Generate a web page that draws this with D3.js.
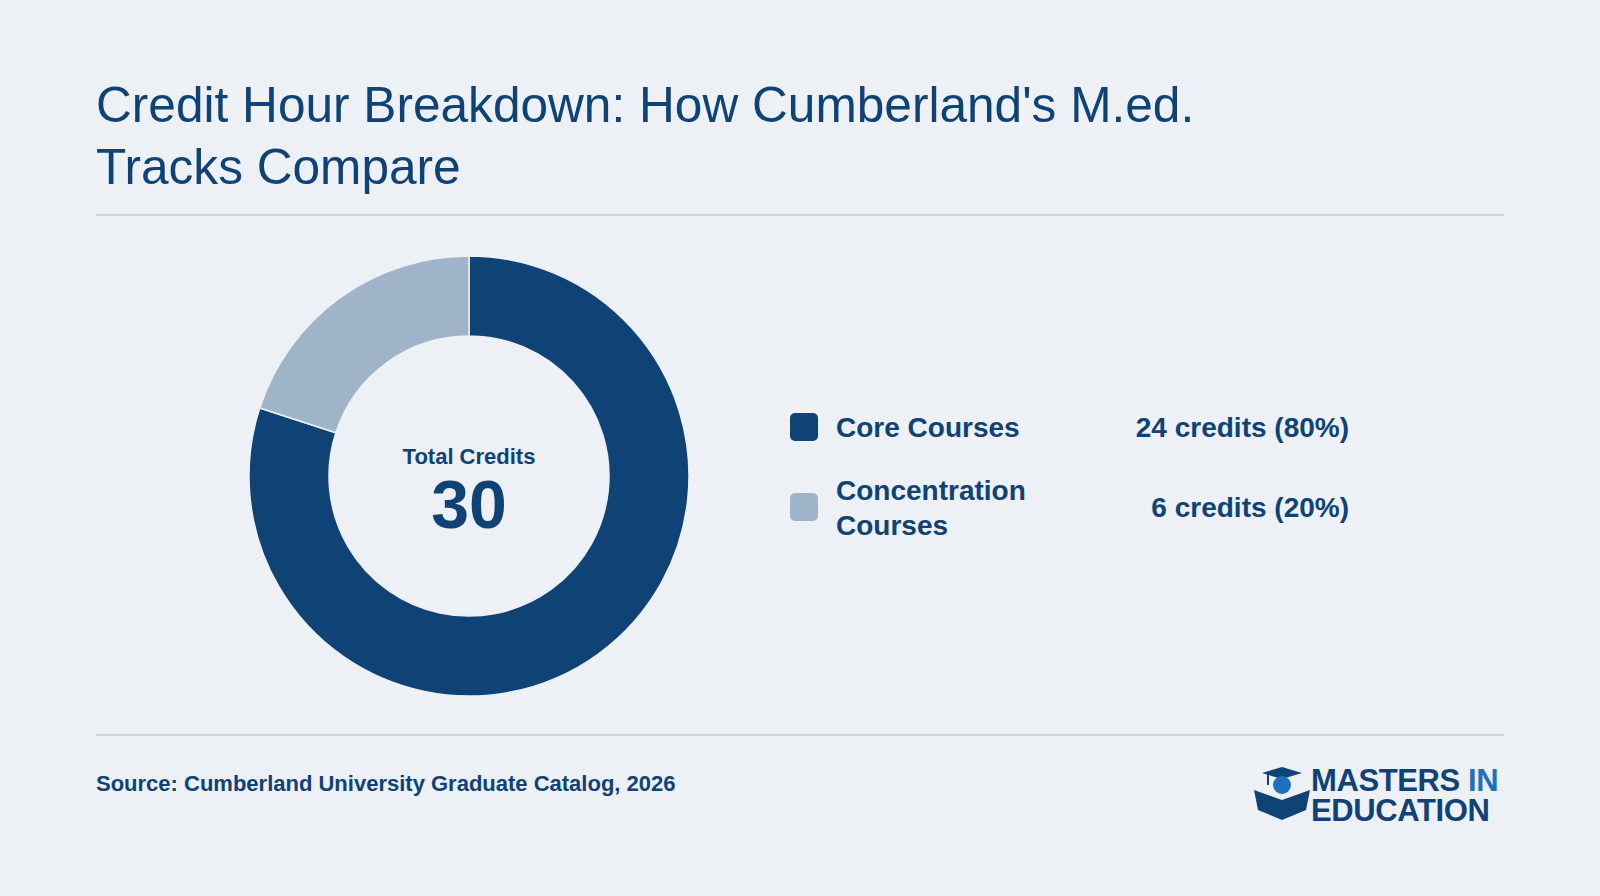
<!DOCTYPE html><html><head><meta charset="utf-8"><script src="https://cdn.jsdelivr.net/npm/d3@7"></script>
<style>body{margin:0;background:#edf0f5}text{font-family:"Liberation Sans",Arial,sans-serif}</style></head><body>
<svg id="c" width="1600" height="896"></svg>
<script>
const categories=["Core Courses","Concentration Courses"];
const credits=[24,6];
const valueLabels=["24 credits (80%)","6 credits (20%)"];
const colors=["#0f4275","#a0b4c9"];
const svg=d3.select("#c");
const navy="#0f4275";
svg.append("rect").attr("width",1600).attr("height",896).attr("fill","#edf0f5");
svg.append("text").attr("x",96).attr("y",122).attr("font-size",49.6).attr("fill",navy).text("Credit Hour Breakdown: How Cumberland's M.ed.");
svg.append("text").attr("x",96).attr("y",184).attr("font-size",49.6).attr("fill",navy).text("Tracks Compare");
[215,735].forEach(y=>svg.append("line").attr("x1",96).attr("x2",1504).attr("y1",y).attr("y2",y).attr("stroke","#c3cedb").attr("stroke-width",1.5));
const g=svg.append("g").attr("transform","translate(469,476)");
const pie=d3.pie().sort(null)(credits);
const arc=d3.arc().innerRadius(140).outerRadius(220);
g.selectAll("path").data(pie).join("path").attr("d",arc).attr("fill",(d,i)=>colors[i]).attr("stroke","#edf0f5").attr("stroke-width",1.5);
g.append("text").attr("text-anchor","middle").attr("y",-12).attr("font-size",22).attr("font-weight","bold").attr("fill",navy).text("Total Credits");
g.append("text").attr("text-anchor","middle").attr("y",52).attr("font-size",68).attr("font-weight","bold").attr("fill",navy).text(d3.sum(credits));
const ly=[427,507];
categories.forEach((c,i)=>{
  svg.append("rect").attr("x",790).attr("y",ly[i]-14).attr("width",28).attr("height",28).attr("rx",5).attr("fill",colors[i]);
  const t=svg.append("text").attr("x",836).attr("font-size",28).attr("font-weight","bold").attr("fill",navy);
  const words=i==0?[c]:["Concentration","Courses"];
  words.forEach((w,k)=>t.append("tspan").attr("x",836).attr("y",ly[i]+10+(words.length>1?(k-0.5)*35:0)).text(w));
  svg.append("text").attr("x",1349).attr("y",ly[i]+10).attr("text-anchor","end").attr("font-size",28).attr("font-weight","bold").attr("fill",navy).text(valueLabels[i]);
});
svg.append("text").attr("x",96).attr("y",791).attr("font-size",22).attr("font-weight","bold").attr("fill",navy).text("Source: Cumberland University Graduate Catalog, 2026");
// logo
const lg=svg.append("g");
lg.append("path").attr("d","M1262,773 L1282,767 L1302,773 L1282,779 Z").attr("fill",navy);
lg.append("circle").attr("cx",1282).attr("cy",785).attr("r",9).attr("fill","#1f6fbf");
lg.append("line").attr("x1",1268).attr("x2",1268).attr("y1",774).attr("y2",785).attr("stroke",navy).attr("stroke-width",2);
lg.append("path").attr("d","M1254,790 L1282,800 L1310,790 L1306,810 L1282,820 L1258,810 Z").attr("fill",navy);
lg.append("path").attr("d","M1258,790 L1282,797 L1306,790").attr("fill","none").attr("stroke","#edf0f5").attr("stroke-width",1.5);
const l1=lg.append("text").attr("x",1311).attr("y",791).attr("font-size",31).attr("font-weight",900).attr("fill",navy).attr("letter-spacing",-0.4).attr("font-family","Roboto");
l1.append("tspan").text("MASTERS ");l1.append("tspan").attr("fill","#1f6fbf").text("IN");
lg.append("text").attr("x",1311).attr("y",821).attr("font-size",31).attr("font-weight",900).attr("fill",navy).attr("letter-spacing",-0.4).attr("font-family","Roboto").text("EDUCATION");
</script></body></html>
